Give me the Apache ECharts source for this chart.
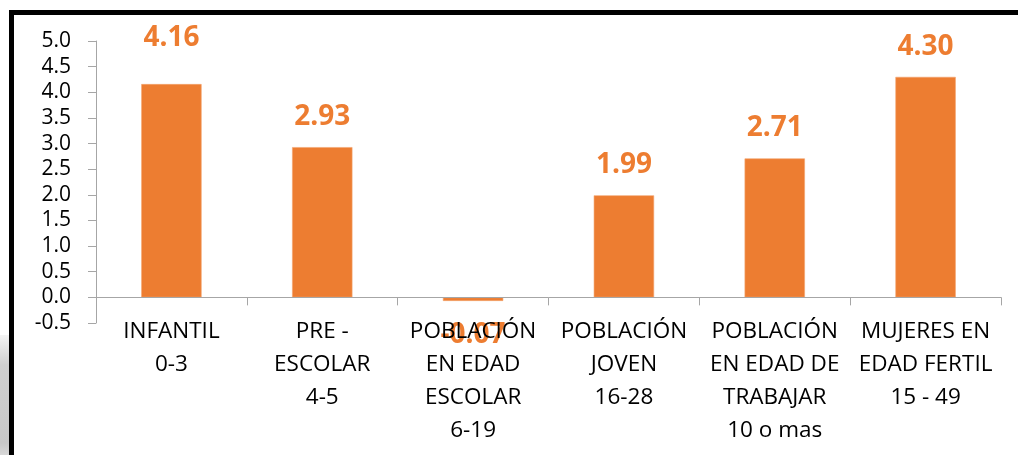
<!DOCTYPE html>
<html>
<head>
<meta charset="utf-8">
<script src="https://cdn.jsdelivr.net/npm/echarts@6/dist/echarts.min.js"></script>
<style>
  html, body { margin: 0; padding: 0; background: #fff; }
  #wrap { position: relative; width: 1018px; height: 455px; overflow: hidden; }
  /* sombra gris a la izquierda */
  #shadow { position: absolute; left: 0; top: 335px; width: 9px; height: 120px;
    background: linear-gradient(to bottom, #f4f4f4, #cfcfcf 25%, #c8c8c8 90%, #d8d8d8); }
  /* marco negro */
  #frame { position: absolute; left: 9px; top: 10px; right: -10px; bottom: -10px;
    border-left: 5px solid #000; border-top: 5px solid #000; }
  #main { position: absolute; left: 0; top: 0; width: 1018px; height: 455px; }
</style>
</head>
<body>
<div id="wrap">
  <div id="shadow"></div>
  <div id="frame"></div>
  <div id="main"></div>
</div>
<script>
// categorias y valores
var categories = [
  'INFANTIL\n0-3',
  'PRE -\nESCOLAR\n4-5',
  'POBLACIÓN\nEN EDAD\nESCOLAR\n6-19',
  'POBLACIÓN\nJOVEN\n16-28',
  'POBLACIÓN\nEN EDAD DE\nTRABAJAR\n10 o mas',
  'MUJERES EN\nEDAD FERTIL\n15 - 49'
]
var values = [4.16, 2.93, -0.07, 1.99, 2.71, 4.30]

var font = '"Open Sans", sans-serif'
var orange = '#ED7D31'
var axisGray = '#A6A6A6'

var myChart = echarts.init(document.getElementById('main'), null, { renderer: 'canvas' })

var seriesData = values.map(function (v, i) {
  var item = { value: v }
  if (v < 0) {
    item.label = { position: 'bottom', distance: 20 }
  }
  // la etiqueta del primero esta mas arriba en el original
  if (i === 0) {
    item.label = { offset: [0, -16] }
  }
  return item
})

var option = {
  backgroundColor: 'transparent',
  animation: false,
  grid: {
    left: 96,
    right: 17,
    top: 41,
    bottom: 132,
    containLabel: false,
    outerBoundsMode: 'none'
  },
  xAxis: {
    type: 'category',
    data: categories,
    z: 10,
    axisLine: { onZero: true, lineStyle: { color: axisGray, width: 1 } },
    axisTick: { show: true, length: 8, alignWithLabel: false, lineStyle: { color: axisGray } },
    axisLabel: {
      interval: 0,
      margin: -8,
      color: '#000',
      fontFamily: font,
      fontSize: 22.5,
      lineHeight: 33
    }
  },
  yAxis: {
    type: 'value',
    min: -0.5,
    max: 5,
    interval: 0.5,
    splitLine: { show: false },
    axisLine: { show: true, lineStyle: { color: axisGray, width: 1 } },
    axisTick: { show: true, length: 8, lineStyle: { color: axisGray } },
    axisLabel: {
      margin: 25,
      color: '#000',
      fontFamily: font,
      fontSize: 21,
      formatter: function (v) { return v.toFixed(1) }
    }
  },
  series: [
    {
      type: 'bar',
      data: seriesData,
      barWidth: '40%',
      itemStyle: { color: orange, borderColor: '#F4A46F', borderWidth: 0.6 },
      label: {
        show: true,
        position: 'top',
        distance: 16,
        color: orange,
        fontFamily: font,
        fontWeight: 'bold',
        fontSize: 28,
        formatter: function (p) { return p.value.toFixed(2) }
      }
    }
  ]
}

myChart.setOption(option)
</script>
</body>
</html>
